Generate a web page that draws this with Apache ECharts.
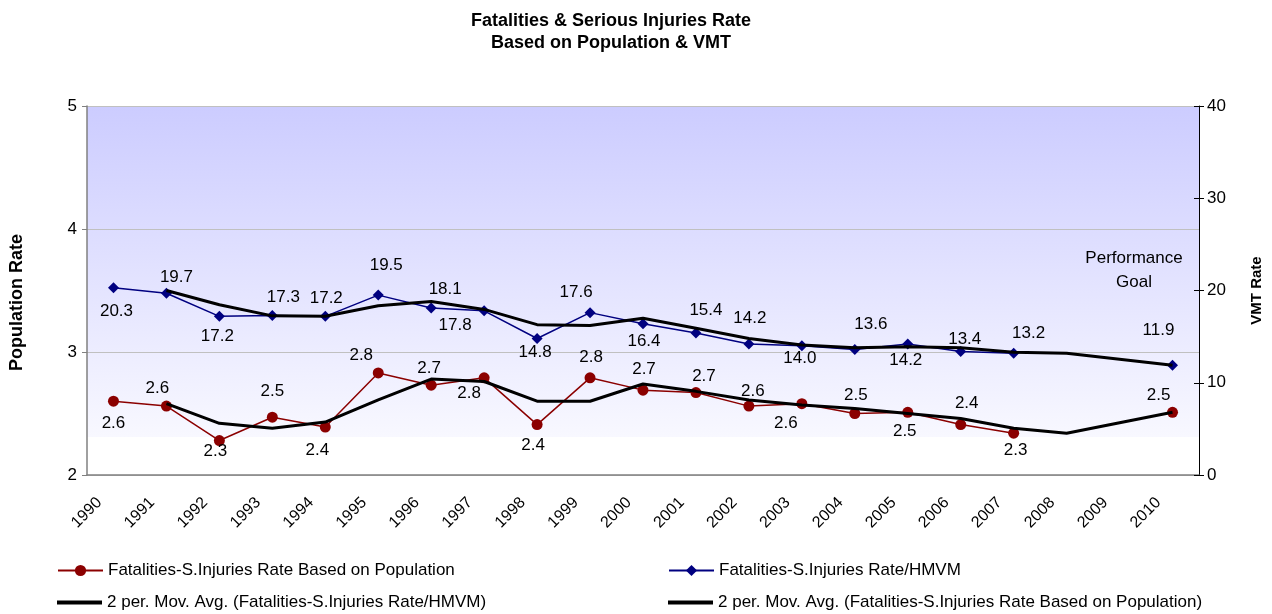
<!DOCTYPE html>
<html>
<head>
<meta charset="utf-8">
<script src="https://cdn.jsdelivr.net/npm/echarts@6/dist/echarts.min.js"></script>
<style>
  html, body { margin: 0; padding: 0; background: #fff; }
  #chart { width: 1272px; height: 614px; }
</style>
</head>
<body>
<div id="chart"></div>
<script>
// chart data
const years = ["1990", "1991", "1992", "1993", "1994", "1995", "1996", "1997", "1998", "1999", "2000",
  "2001", "2002", "2003", "2004", "2005", "2006", "2007", "2008", "2009", "2010"];

// rate based on population (left axis)
const popRate = [2.60, 2.56, 2.28, 2.47, 2.39, 2.83, 2.73, 2.79, 2.41, 2.79, 2.69,
  2.67, 2.56, 2.58, 2.50, 2.51, 2.41, 2.34, null, null, 2.51];
// rate per HMVM (right axis)
const vmtRate = [20.3, 19.7, 17.2, 17.3, 17.2, 19.5, 18.1, 17.8, 14.8, 17.6, 16.4,
  15.4, 14.2, 14.0, 13.6, 14.2, 13.4, 13.2, null, null, 11.9];
// 2 period moving averages as drawn
const vmtAvg = [null, 20.0, 18.45, 17.25, 17.2, 18.35, 18.8, 17.95, 16.3, 16.2, 17.0,
  15.9, 14.8, 14.1, 13.8, 13.9, 13.8, 13.3, 13.2, null, 11.9];
const popAvg = [null, 2.58, 2.42, 2.38, 2.43, 2.61, 2.78, 2.76, 2.60, 2.60, 2.74,
  2.68, 2.61, 2.57, 2.54, 2.50, 2.46, 2.38, 2.34, null, 2.51];

const popTicks = [2, 5, 1];   // min, max, step
const vmtTicks = [0, 40, 10];

const names = {
  pop: "Fatalities-S.Injuries Rate Based on Population",
  vmt: "Fatalities-S.Injuries Rate/HMVM",
  vmtAvg: "2 per. Mov. Avg. (Fatalities-S.Injuries Rate/HMVM)",
  popAvg: "2 per. Mov. Avg. (Fatalities-S.Injuries Rate Based on Population)",
};

// where each data label sits relative to its point (hand placed in the original)
const popLabelPos = [[0, 22], [-9, -18], [-4, 11], [0, -26], [-8, 23], [-17, -18], [-2, -17], [-15, 15], [-4, 21], [1, -21], [1, -21],
  [8, -16], [4, -15], [-16, 20], [1, -18], [-3, 19], [6, -21], [2, 17], null, null, [-14, -17]];
const vmtLabelPos = [[3, 24], [10, -16], [-2, 20], [11, -18], [1, -18], [8, -30], [14, -19], [-29, 15], [-2, 14], [-14, -20], [1, 18],
  [10, -23], [1, -26], [-2, 12], [16, -25], [-2, 16], [4, -12], [15, -20], null, null, [-14, -35]];

const font = "'Liberation Sans', Arial, sans-serif";
// flat bar used as the legend icon of the moving average lines
const avgIcon = "path://M0,0 L45,0 L45,4 L0,4 Z";

const withLabels = (values, pos, digits) =>
  values.map((v, i) =>
    v == null
      ? null
      : {
          value: v,
          label: { show: true, position: "inside", offset: pos[i], formatter: v.toFixed(digits) },
        }
  );

// one legend per entry so the 2x2 layout is fixed
const legendItem = (left, top, item) => ({
  left,
  top,
  itemWidth: 45,
  itemHeight: 14,
  textStyle: { fontSize: 17, color: "#000", fontFamily: font },
  data: [item],
});

const myChart = echarts.init(document.getElementById("chart"));

const option = {
  animation: false,
  backgroundColor: "#fff",
  textStyle: { fontFamily: font },
  title: {
    text: "Fatalities & Serious Injuries Rate\nBased on Population & VMT",
    left: 606,
    textAlign: "center",
    top: 5,
    textStyle: { fontSize: 18, fontWeight: "bold", color: "#000", lineHeight: 22, fontFamily: font },
  },
  grid: {
    left: 86,
    right: 69,
    top: 106,
    bottom: 139,
    show: true,
    borderWidth: 0,
    backgroundColor: new echarts.graphic.LinearGradient(0, 0, 0, 1, [
      { offset: 0, color: "#ccccff" },
      { offset: 0.897, color: "#f8f8ff" },
      { offset: 0.898, color: "#ffffff" },
      { offset: 1, color: "#ffffff" },
    ]),
  },
  legend: [
    legendItem(52, 557, names.pop),
    legendItem(663, 557, names.vmt),
    legendItem(52, 589, { name: names.vmtAvg, icon: avgIcon }),
    legendItem(663, 589, { name: names.popAvg, icon: avgIcon }),
  ],
  xAxis: {
    type: "category",
    data: years,
    boundaryGap: true,
    axisLine: { lineStyle: { color: "#808080", width: 1.5 } },
    axisTick: { interval: 0, length: 6, lineStyle: { color: "#808080" } },
    axisLabel: { interval: 0, rotate: 45, fontSize: 16, color: "#000", margin: 11, padding: [0, 20, 0, 0] },
  },
  yAxis: [
    {
      type: "value",
      min: popTicks[0],
      max: popTicks[1],
      interval: popTicks[2],
      name: "Population Rate",
      nameLocation: "middle",
      nameGap: 61,
      nameTextStyle: { fontSize: 18, fontWeight: "bold", color: "#000", padding: [0, 24, 0, 0] },
      axisLine: { show: true, lineStyle: { color: "#808080", width: 1.5 } },
      axisTick: { show: true, length: 5, lineStyle: { color: "#808080" } },
      axisLabel: { fontSize: 17, color: "#000", margin: 10 },
      splitLine: { show: true, lineStyle: { color: "#c0c0c0", width: 1 } },
    },
    {
      type: "value",
      min: vmtTicks[0],
      max: vmtTicks[1],
      interval: vmtTicks[2],
      name: "VMT Rate",
      nameLocation: "middle",
      nameGap: 50,
      nameTextStyle: { fontSize: 15, fontWeight: "bold", color: "#000" },
      axisLine: { show: true, lineStyle: { color: "#000", width: 1 } },
      axisTick: { show: true, length: 5, lineStyle: { color: "#000" } },
      axisLabel: { fontSize: 17, color: "#000", margin: 8 },
      splitLine: { show: false },
    },
    {
      // inner half of the right axis ticks
      type: "value",
      position: "right",
      min: vmtTicks[0],
      max: vmtTicks[1],
      interval: vmtTicks[2],
      axisLine: { show: false },
      axisTick: { show: true, inside: true, length: 5, lineStyle: { color: "#000" } },
      axisLabel: { show: false },
      splitLine: { show: false },
    },
  ],
  series: [
    {
      name: names.pop,
      type: "line",
      yAxisIndex: 0,
      data: withLabels(popRate, popLabelPos, 1),
      connectNulls: false,
      symbol: "circle",
      symbolSize: 11,
      itemStyle: { color: "#8b0000" },
      lineStyle: { color: "#8b0000", width: 1.5 },
      label: { fontSize: 17, color: "#000" },
      z: 2,
    },
    {
      name: names.vmt,
      type: "line",
      yAxisIndex: 1,
      data: withLabels(vmtRate, vmtLabelPos, 1),
      connectNulls: false,
      symbol: "diamond",
      symbolSize: 11,
      itemStyle: { color: "#000080" },
      lineStyle: { color: "#000080", width: 1.5 },
      label: { fontSize: 17, color: "#000" },
      z: 2,
    },
    {
      name: names.vmtAvg,
      type: "line",
      yAxisIndex: 1,
      data: vmtAvg,
      connectNulls: true,
      showSymbol: false,
      symbol: "none",
      itemStyle: { color: "#000" },
      lineStyle: { color: "#000", width: 3 },
      z: 3,
    },
    {
      name: names.popAvg,
      type: "line",
      yAxisIndex: 0,
      data: popAvg,
      connectNulls: true,
      showSymbol: false,
      symbol: "none",
      itemStyle: { color: "#000" },
      lineStyle: { color: "#000", width: 3 },
      z: 3,
    },
  ],
  graphic: [
    {
      type: "text",
      x: 1134,
      y: 246,
      style: {
        text: "Performance\nGoal",
        fontSize: 17,
        fontFamily: font,
        fill: "#000",
        align: "center",
        verticalAlign: "top",
        lineHeight: 24,
      },
    },
  ],
};

myChart.setOption(option);
</script>
</body>
</html>
